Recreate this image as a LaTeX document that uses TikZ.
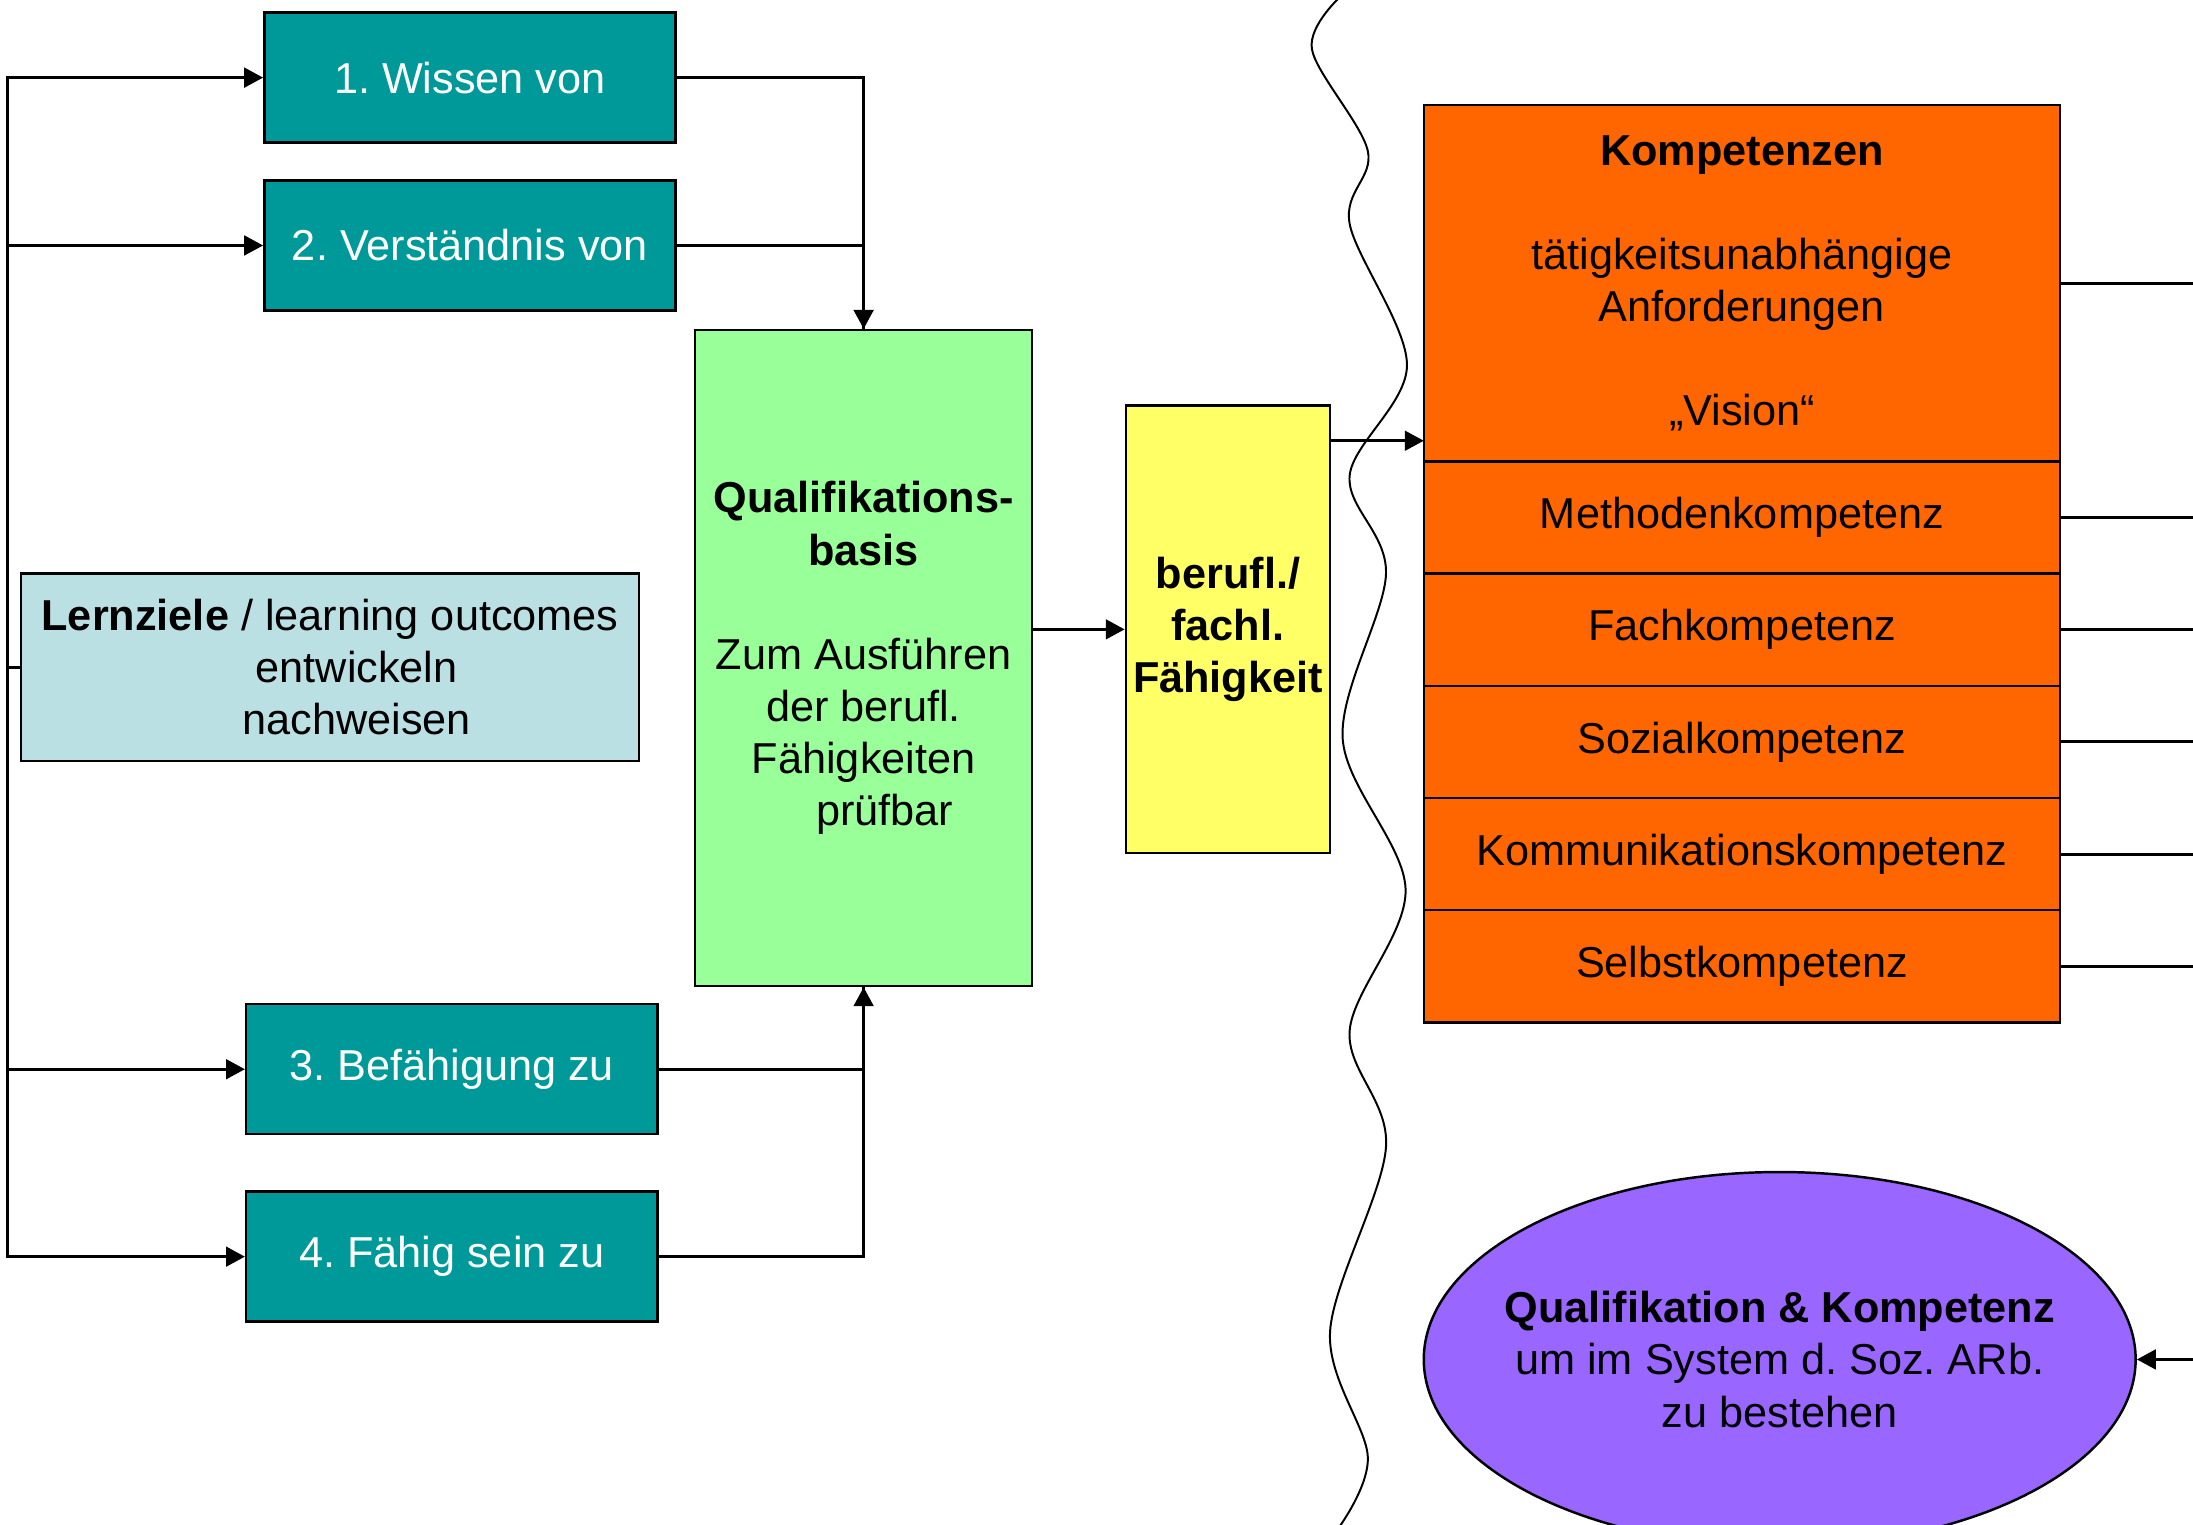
\documentclass[tikz,border=0pt]{standalone}
\usepackage{fontspec}
\setmainfont{Liberation Sans}
\usetikzlibrary{positioning,arrows.meta,shapes.geometric}
\definecolor{tealbox}{HTML}{009999}
\definecolor{lightbox}{HTML}{BBE0E3}
\definecolor{greenbox}{HTML}{99FF99}
\definecolor{yellowbox}{HTML}{FFFF66}
\definecolor{orangebox}{HTML}{FF6600}
\definecolor{violetbox}{HTML}{9966FF}

\begin{document}
\begin{tikzpicture}[x=0.1mm,y=-0.1mm,
  every node/.style={font=\fontsize{8.8}{10.6}\selectfont\frenchspacing, inner sep=0pt, align=center},
  lernbox/.style={draw, line width=0.5pt, fill=tealbox, text=white, minimum width=29.4mm, minimum height=9.3mm},
  kbox/.style={draw, line width=0.5pt, fill=orangebox, outer sep=0pt, minimum width=45.5mm, minimum height=8.02mm},
  conn/.style={line width=0.6pt},
  arr/.style={conn, -{Triangle[length=1.35mm,width=1.4mm]}}]

\fill[white] (0,0) rectangle (1568,1090);
\useasboundingbox (0,0) rectangle (1568,1090);

\node[lernbox] (wv) at (336,55.5) {1. Wissen von};
\node[lernbox] (vs) at (336,175.5) {2. Verständnis von};
\node[lernbox] (bf) at (323,764.5) {3. Befähigung zu};
\node[lernbox] (fs) at (323,898.5) {4. Fähig sein zu};

\node[draw, line width=0.5pt, fill=lightbox, minimum width=44.2mm, minimum height=13.4mm] (lz) at (236,477)
  {\textbf{Lernziele} / learning outcomes\\\hspace*{3.8mm}entwickeln\\\hspace*{3.8mm}nachweisen};

\node[draw, line width=0.5pt, fill=greenbox, minimum width=24.1mm, minimum height=46.9mm] (qb) at (617.5,470.5)
  {\textbf{Qualifikations-}\\\textbf{basis}\\[10.6pt]Zum Ausführen\\der berufl.\\Fähigkeiten\\\hspace*{3mm}prüfbar};

\node[draw, line width=0.5pt, fill=yellowbox, minimum width=14.6mm, minimum height=32mm] (fk) at (878,450)
  {\textbf{berufl./}\\\textbf{fachl.}\\\textbf{Fähigkeit}};

\node[kbox, minimum height=25.5mm] (kp) at (1245.5,202.5)
  {\textbf{Kompetenzen}\\[10.6pt]tätigkeitsunabhängige\\Anforderungen\\[10.6pt]„Vision“};
\node[kbox, below=0pt of kp] (mk) {Methodenkompetenz};
\node[kbox, below=0pt of mk] (fa) {Fachkompetenz};
\node[kbox, below=0pt of fa] (so) {Sozialkompetenz};
\node[kbox, below=0pt of so] (ko) {Kommunikationskompetenz};
\node[kbox, below=0pt of ko] (se) {Selbstkompetenz};

\node[ellipse, draw, line width=0.5pt, fill=violetbox, minimum width=50.9mm, minimum height=26.8mm] (qk) at (1272.5,972) {};
\node (qkt) at (qk) {\textbf{Qualifikation \& Kompetenz}\\um im System d. Soz. ARb.\\zu bestehen};

\draw[line width=0.4pt] plot[smooth, tension=0.55] coordinates {(960,-4) (938,35) (978,108) (965,160) (1006,261)
  (965,340) (991,410) (960,528) (1005,636) (965,737) (991,820) (951,952) (978,1042) (956,1094)};

\coordinate (lzl) at ([xshift=-0.9mm]lz.west);
\draw[conn] (lz.west) -- (lzl);
\draw[arr] (lzl) |- (wv);
\draw[arr] (lzl) |- (vs);
\draw[arr] (lzl) |- (bf);
\draw[arr] (lzl) |- (fs);

\draw[arr] (wv) -| (qb);
\draw[conn] (vs) -| (qb);
\draw[arr] (bf) -| (qb);
\draw[conn] (fs) -| (qb);

\draw[arr] (qb.east |- fk) -- (fk);
\coordinate (fkr) at ([yshift=-2.6mm]fk.north east);
\draw[arr] (fkr) -- (fkr -| kp.west);

\foreach \n in {kp,mk,fa,so,ko,se}
  \draw[conn] (\n.east) -- ++(95,0);

\coordinate (qkr) at ([xshift=4.1mm]qk.east);
\draw[arr] (qkr) -- (qk);

\end{tikzpicture}
\end{document}
